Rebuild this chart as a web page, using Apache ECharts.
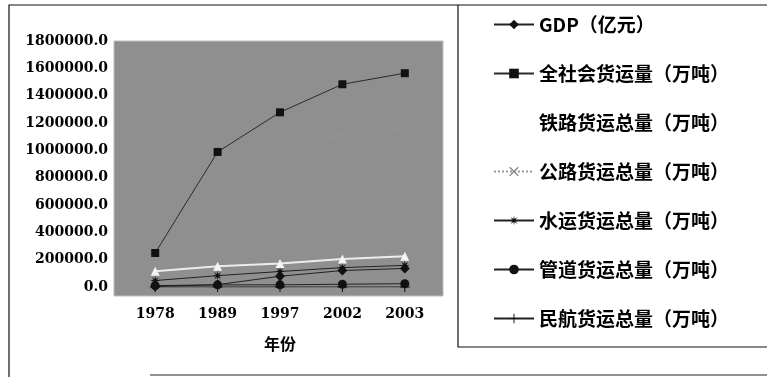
<!DOCTYPE html>
<html>
<head>
<meta charset="utf-8">
<script src="https://cdn.jsdelivr.net/npm/echarts@6/dist/echarts.min.js"></script>
<style>
  html, body { margin: 0; padding: 0; background: #fff; }
  #chart { width: 767px; height: 377px; }
</style>
</head>
<body>
<div id="chart"></div>
<script>
// 年份
const years = ['1978', '1989', '1997', '2002', '2003'];

// 各系列数值
const gdp       = [3645, 16992, 78973, 120333, 135823];          // GDP（亿元）
const total     = [248946, 988435, 1278218, 1483447, 1564492];   // 全社会货运量（万吨）
const railway   = [115000, 151489, 172149, 204956, 224248];      // 铁路货运总量（万吨）
const highway   = [151602, 733781, 976536, 1116324, 1159957];    // 公路货运总量（万吨）
const waterway  = [47357, 83061, 113406, 141832, 158070];        // 水运货运总量（万吨）
const pipeline  = [10347, 15721, 16001, 20253, 24098];           // 管道货运总量（万吨）
const aviation  = [6, 41, 125, 202, 219];                        // 民航货运总量（万吨）

const seriesNames = [
  'GDP（亿元）',
  '全社会货运量（万吨）',
  '铁路货运总量（万吨）',
  '公路货运总量（万吨）',
  '水运货运总量（万吨）',
  '管道货运总量（万吨）',
  '民航货运总量（万吨）'
];

// y 轴刻度
const yMin = 0, yMax = 1800000, yStep = 200000;

// 标记形状
const starPath = 'path://M10 0 L3.23 1.34 L7.07 7.07 L1.34 3.23 L0 10 L-1.34 3.23 L-7.07 7.07 L-3.23 1.34 L-10 0 L-3.23 -1.34 L-7.07 -7.07 L-1.34 -3.23 L0 -10 L1.34 -3.23 L7.07 -7.07 L3.23 -1.34 Z';
const crossPath = 'path://M-10 -8 L-8 -10 L0 -2 L8 -10 L10 -8 L2 0 L10 8 L8 10 L0 2 L-8 10 L-10 8 L-2 0 Z';
const plusPath = 'path://M-1 -10 L1 -10 L1 -1 L10 -1 L10 1 L1 1 L1 10 L-1 10 L-1 1 L-10 1 L-10 -1 L-1 -1 Z';

const numFont = "'DejaVu Serif', 'Liberation Serif', serif";
const cjkFont = "'Noto Sans CJK SC', sans-serif";

const chart = echarts.init(document.getElementById('chart'), null, { renderer: 'canvas' });

function lineSeries(name, data, color, lineColor, symbol, size, width, type, z, symbolOpacity) {
  return {
    name: name,
    type: 'line',
    data: data,
    symbol: symbol,
    symbolSize: size,
    z: z,
    itemStyle: { color: color, opacity: symbolOpacity == null ? 1 : symbolOpacity },
    lineStyle: { color: lineColor, width: width, type: type || 'solid' },
    emphasis: { disabled: true },
    animation: false
  };
}

// 图例条目：铁路为白色（在白底上不可见），公路显示浅色虚线与叉号
const legendData = seriesNames.map((name, i) => {
  if (i === 2) {
    return { name, itemStyle: { color: '#ffffff', opacity: 1 }, lineStyle: { color: '#ffffff' } };
  }
  if (i === 3) {
    return { name, itemStyle: { color: '#8a8a8a', opacity: 1 }, lineStyle: { color: '#9a9a9a', type: 'dotted' } };
  }
  return { name };
});

chart.setOption({
  animation: false,
  backgroundColor: '#ffffff',
  graphic: [
    // 外框
    { type: 'polyline', shape: { points: [[9, 377], [9, 5], [767, 5]] },
      style: { stroke: '#111', lineWidth: 1.2, fill: null }, silent: true },
    { type: 'line', shape: { x1: 150, y1: 375, x2: 767, y2: 375 },
      style: { stroke: '#222', lineWidth: 1.2 }, silent: true },
    // 图例框
    { type: 'polyline', shape: { points: [[458, 5], [458, 347], [767, 347]] },
      style: { stroke: '#111', lineWidth: 1.2, fill: null }, silent: true },
    // 绘图区底色
    { type: 'rect', shape: { x: 114, y: 41, width: 329, height: 255 },
      style: { fill: '#8f8f8f', stroke: '#bdbdbd', lineWidth: 1 }, z: -10, silent: true }
  ],
  grid: { left: 124, right: 331, top: 41, bottom: 90, containLabel: false },
  xAxis: {
    type: 'category',
    data: years,
    boundaryGap: true,
    axisLine: { show: false },
    axisTick: { show: false },
    axisLabel: { color: '#000', fontFamily: numFont, fontWeight: 'bold', fontSize: 14, margin: 20 },
    name: '年份',
    nameLocation: 'middle',
    nameGap: 49,
    nameTextStyle: { color: '#000', fontFamily: cjkFont, fontWeight: 'bold', fontSize: 16 }
  },
  yAxis: {
    type: 'value',
    min: yMin,
    max: yMax,
    interval: yStep,
    axisLine: { show: false },
    axisTick: { show: false },
    splitLine: { show: false },
    axisLabel: {
      color: '#000', fontFamily: numFont, fontWeight: 'bold', fontSize: 14, margin: 16,
      formatter: v => v.toFixed(1)
    }
  },
  legend: {
    orient: 'vertical',
    left: 488,
    top: 10,
    itemGap: 30,
    itemWidth: 40,
    itemHeight: 12,
    data: legendData,
    textStyle: { color: '#000', fontFamily: cjkFont, fontWeight: 'bold', fontSize: 19 },
    selectedMode: false
  },
  series: [
    lineSeries(seriesNames[0], gdp, '#111', '#222', 'diamond', 10, 1, 'solid', 6),
    lineSeries(seriesNames[1], total, '#111', '#2a2a2a', 'rect', 8, 1, 'solid', 7),
    lineSeries(seriesNames[2], railway, '#f4f4f4', '#ececec', 'triangle', 9, 2, 'solid', 5),
    lineSeries(seriesNames[3], highway, '#999999', '#9a9a9a', crossPath, 8, 1, 'dotted', 2, 0),
    lineSeries(seriesNames[4], waterway, '#111', '#222', starPath, 10, 1, 'solid', 4),
    lineSeries(seriesNames[5], pipeline, '#111', '#222', 'circle', 9, 1, 'solid', 3),
    lineSeries(seriesNames[6], aviation, '#111', '#222', plusPath, 10, 1, 'solid', 3)
  ]
});
</script>
</body>
</html>
